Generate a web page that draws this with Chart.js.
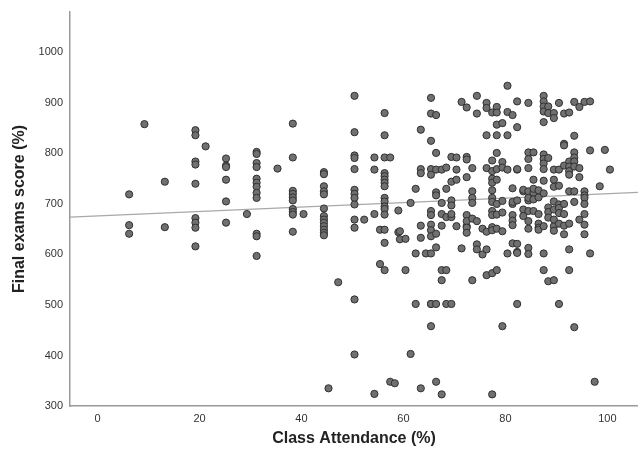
<!DOCTYPE html>
<html>
<head>
<meta charset="utf-8">
<script src="https://cdn.jsdelivr.net/npm/chart.js@4/dist/chart.umd.min.js"></script>
<style>
html,body{margin:0;padding:0;background:#fff;}
#wrap{width:638px;height:454px;position:relative;}
</style>
</head>
<body>
<div id="wrap"><canvas id="c"></canvas></div>
<script>
// Attendance (%) and final exam score per student
const attendance = [
6.2,6.2,6.2, 9.2, 13.2,13.2,
19.2,19.2,19.2,19.2,19.2,19.2,19.2,19.2,19.2, 21.2,
25.2,25.2,25.2,25.2,25.2,25.2, 29.3,
31.2,31.2,31.2,31.2,31.2,31.2,31.2,31.2,31.2,31.2,31.2,31.2, 35.3,
38.3,38.3,38.3,38.3,38.3,38.3,38.3,38.3,38.3,38.3, 40.4,
44.4,44.4,44.4,44.4,44.4,44.4,44.4,44.4,44.4,44.4,44.4,44.4,44.4, 45.3, 47.2,
50.4,50.4,50.4,50.4,50.4,50.4,50.4,50.4,50.4,50.4,50.4,50.4,50.4, 52.3,
54.3,54.3,54.3,54.3, 55.4,55.4,
56.3,56.3,56.3,56.3,56.3,56.3,56.3,56.3,56.3,56.3,56.3,56.3,56.3,56.3,56.3,56.3,
57.4,57.4, 58.3, 59.0,59.0, 59.3,59.3, 60.4,60.4, 61.4,61.4, 62.4,62.4,62.4,
63.4,63.4,63.4,63.4,63.4,63.4, 64.4,
65.4,65.4,65.4,65.4,65.4,65.4,65.4,65.4,65.4,65.4,65.4,65.4,65.4,65.4,
66.4,66.4,66.4,66.4,66.4,66.4,66.4,66.4,66.4,
67.5,67.5,67.5,67.5,67.5,67.5,67.5,
68.4,68.4,68.4,68.4,68.4,
69.4,69.4,69.4,69.4,69.4,69.4,69.4,
70.4,70.4,70.4,70.4, 71.4,71.4,
72.4,72.4,72.4,72.4,72.4,72.4,72.4,72.4,72.4,
73.5,73.5,73.5,73.5,73.5,73.5,
74.4,74.4,74.4,74.4,74.4, 75.5,75.5,
76.3,76.3,76.3,76.3,76.3,76.3,76.3,
77.4,77.4,77.4,77.4,77.4,77.4,77.4,77.4,77.4,77.4,77.4,77.4,77.4,77.4,
78.3,78.3,78.3,78.3,78.3,78.3,78.3,78.3,78.3,78.3,78.3,
79.4,79.4,79.4,79.4,79.4,79.4,79.4,
80.4,80.4,80.4,80.4,80.4,
81.4,81.4,81.4,81.4,81.4,81.4,81.4,81.4,
82.3,82.3,82.3,82.3,82.3,82.3,82.3,82.3,82.3,
83.5,83.5,83.5,83.5,
84.5,84.5,84.5,84.5,84.5,84.5,84.5,84.5,84.5,84.5,84.5,84.5,
85.5,85.5,85.5,85.5,85.5,85.5,
86.5,86.5,86.5,86.5,86.5,86.5,
87.5,87.5,87.5,87.5,87.5,87.5,87.5,87.5,87.5,87.5,87.5,87.5,87.5,87.5,
88.4,88.4,88.4,88.4,88.4,88.4,88.4,
89.5,89.5,89.5,89.5,89.5,89.5,89.5,89.5,89.5,89.5,89.5,
90.5,90.5,90.5,90.5,90.5,90.5,90.5,90.5,
91.5,91.5,91.5,91.5,91.5,91.5,91.5,91.5,
92.5,92.5,92.5,92.5,92.5,92.5,92.5,92.5,92.5,
93.5,93.5,93.5,93.5,93.5,93.5,93.5,93.5,93.5,
94.5,94.5,94.5,94.5,
95.5,95.5,95.5,95.5,95.5,95.5,95.5,95.5,
96.6,96.6,96.6, 97.5, 98.5, 99.5, 100.5
];
const examScore = [
719,658,641, 858, 744,654,
846,836,784,778,740,672,663,653,616, 814,
790,776,773,748,705,663, 680,
803,799,781,773,750,742,734,722,712,641,636,597, 770,
859,792,726,720,713,707,690,684,679,645, 680,
763,759,735,725,719,691,676,669,663,656,649,643,638, 335, 545,
914,842,796,791,769,728,720,712,699,669,653,511,402, 669,
792,768,680,324, 649,581,
880,836,792,761,755,748,742,735,712,705,695,690,679,649,623,569,348,
792,345, 687, 644,630, 646,631, 569,403, 702,602, 730,502,335,
847,769,761,657,633,602, 502,
910,879,825,769,758,686,678,659,648,636,602,502,458,348,
876,801,768,723,717,641,614,502,323,
768,702,680,657,569,549,502,
772,730,674,569,502,
793,744,707,697,674,680,656,
792,768,748,612, 902,656,
891,793,788,753,678,666,653,643,549,
771,725,712,702,671,666,
914,879,620,610,600, 651,610,
900,890,836,771,645,559,323,
881,786,765,750,742,727,712,704,686,678,654,648,563,569,
892,881,857,836,801,769,748,700,679,651,458,
860,783,772,706,683,646,602,
934,882,836,768,700,
876,731,704,678,667,658,622,605,
903,852,768,707,502,621,603,769,725,
728,689,676,707,
900,802,789,771,725,712,686,666,651,613,601,722,
802,748,730,709,686,661,
727,713,680,653,649,721,
914,903,893,883,862,798,789,780,769,746,656,602,569,547,
893,880,791,693,684,673,656,
880,870,768,748,734,705,689,669,647,549,502,
900,768,736,699,692,682,661,640,
879,819,816,776,700,680,657,610,
881,784,774,765,758,725,661,569,456,
902,835,802,792,784,774,725,704,669,
892,771,753,659,
902,725,717,712,700,680,640,602,
903,806,348, 735, 807, 768, 648
];
// Linear fit line (intercept, slope)
const fitIntercept = 676.4;
const fitSlope = 0.44;
// Axis ranges and tick labels
const xRange = [-5.4, 106];
const yRange = [300, 1080];
const xTicks = [0, 20, 40, 60, 80, 100];
const yTicks = [300, 400, 500, 600, 700, 800, 900, 1000];

const n = Math.min(attendance.length, examScore.length);
const points = [];
for (let i = 0; i < n; i++) points.push({x: attendance[i], y: examScore[i]});
const fitLine = xRange.map(x => ({x: x, y: fitIntercept + fitSlope * x}));

new Chart(document.getElementById('c'), {
  type: 'scatter',
  data: {
    datasets: [
      {
        type: 'line', data: fitLine, order: 2,
        borderColor: '#a8a8a8', borderWidth: 1.2, pointRadius: 0, fill: false
      },
      {
        data: points, order: 1,
        pointRadius: 3.6, pointBackgroundColor: '#707070',
        pointBorderColor: '#303030', pointBorderWidth: 1
      }
    ]
  },
  options: {
    responsive: true, maintainAspectRatio: false, animation: false,
    layout: {autoPadding: false, padding: {top: 12, right: 0, left: 0, bottom: 0}},
    plugins: {legend: {display: false}, tooltip: {enabled: false}},
    scales: {
      x: {
        type: 'linear', min: xRange[0], max: xRange[1],
        afterBuildTicks: s => { s.ticks = xTicks.map(v => ({value: v})); },
        afterFit: s => { s.height = 48; s.paddingLeft = 0; s.paddingRight = 0; },
        grid: {display: false, drawTicks: false},
        border: {display: true, color: '#9a9a9a', width: 1.5},
        ticks: {padding: 6, color: '#333', font: {family: 'Liberation Sans, Arial', size: 11},
          callback: v => String(v)},
        title: {display: true, text: 'Class Attendance (%)', color: '#222',
          font: {family: 'Liberation Sans, Arial', size: 16, weight: 'bold'}, padding: {top: 0, bottom: 6}}
      },
      y: {
        type: 'linear', min: yRange[0], max: yRange[1],
        afterBuildTicks: s => { s.ticks = yTicks.map(v => ({value: v})); },
        afterFit: s => { s.width = 70; s.paddingTop = 0; s.paddingBottom = 0; },
        grid: {display: false, drawTicks: false},
        border: {display: true, color: '#9a9a9a', width: 1.5},
        ticks: {padding: 7, color: '#333', font: {family: 'Liberation Sans, Arial', size: 11},
          callback: v => String(v)},
        title: {display: true, text: 'Final exams score (%)', color: '#222',
          font: {family: 'Liberation Sans, Arial', size: 16, weight: 'bold'}, padding: {top: 10, bottom: 0}}
      }
    }
  }
});
</script>
</body>
</html>
